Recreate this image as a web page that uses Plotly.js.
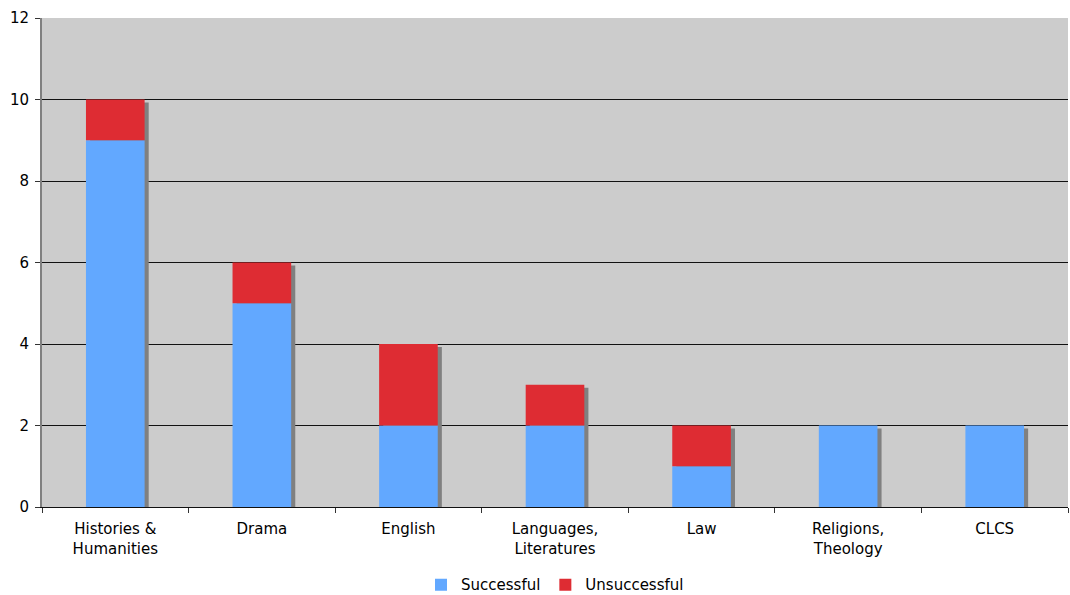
<!DOCTYPE html>
<html><head><meta charset="utf-8">
<script src="https://cdn.plot.ly/plotly-3.0.1.min.js"></script>
<style>html,body{margin:0;padding:0;background:#fff}</style>
</head><body>
<div id="chart" style="width:1070px;height:595px"></div>
<script>
var categories = ["Histories &<br>Humanities", "Drama", "English", "Languages,<br>Literatures", "Law", "Religions,<br>Theology", "CLCS"];
var successful = [9, 5, 2, 2, 1, 2, 2];
var unsuccessful = [1, 1, 2, 1, 1, 0, 0];
var yTicks = [0, 2, 4, 6, 8, 10, 12];

var totals = successful.map(function(v, i){ return v + unsuccessful[i]; });
var shadowDrop = 0.075;
var traces = [
  {type:'bar', x:categories, y:totals.map(function(t){return t - shadowDrop;}), base:0,
   width:0.4, offset:-0.2+0.028, marker:{color:'#808080', line:{width:0}},
   showlegend:false, hoverinfo:'skip'},
  {type:'bar', name:'Successful', x:categories, y:successful, base:0,
   width:0.4, offset:-0.2, marker:{color:'#62A8FF', line:{width:0}}},
  {type:'bar', name:'Unsuccessful', x:categories, y:unsuccessful, base:successful,
   width:0.4, offset:-0.2, marker:{color:'#DE2C33', line:{width:0}}}
];
var layout = {
  width:1070, height:595,
  margin:{l:42, r:2, t:18, b:88, autoexpand:false},
  barmode:'overlay',
  paper_bgcolor:'#ffffff', plot_bgcolor:'#CCCCCC',
  font:{family:'DejaVu Sans, Verdana, sans-serif', size:15, color:'#000'},
  xaxis:{type:'category', tickson:'boundaries', ticks:'outside', ticklen:5, tickcolor:'#333',
         showline:true, linecolor:'#111', linewidth:1, showgrid:false, zeroline:false,
         ticklabelstandoff:8, automargin:false,
         tickfont:{size:15}, range:[-0.5, 6.5], fixedrange:true},
  yaxis:{range:[0,12], tickvals:yTicks, ticktext:yTicks.map(String), ticks:'outside', ticklen:5,
         tickcolor:'#333', showline:true, linecolor:'#808080', linewidth:2, automargin:false,
         showgrid:true, gridcolor:'#111', gridwidth:1, zeroline:false, tickfont:{size:15},
         ticklabelstandoff:3},
  legend:{orientation:'h', x:0.5, xanchor:'center', yref:'container', y:0.017, yanchor:'middle',
          font:{size:15}, itemwidth:30, traceorder:'normal'},
  showlegend:true
};
Plotly.newPlot('chart', traces, layout, {displayModeBar:false, staticPlot:true});
</script>
</body></html>
